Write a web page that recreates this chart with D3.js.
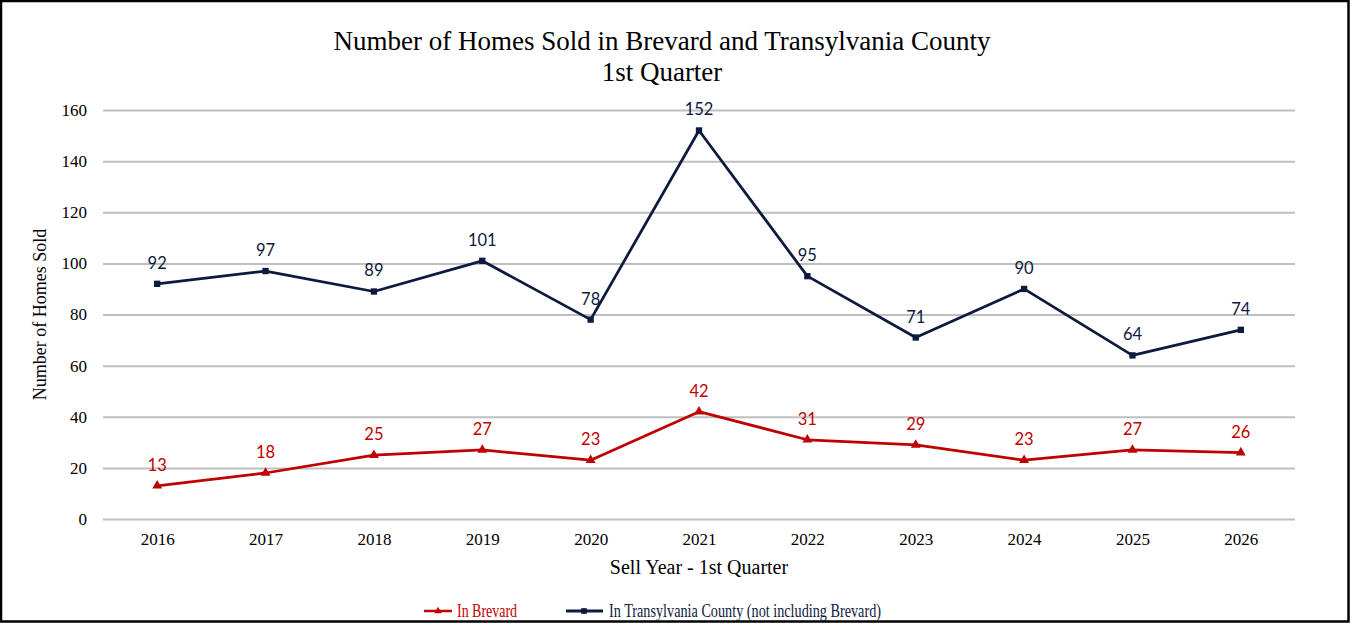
<!DOCTYPE html>
<html>
<head>
<meta charset="utf-8">
<script src="https://cdn.jsdelivr.net/npm/d3@7"></script>
<style>
    body { margin: 0; background: #fff; }
    svg { display: block; }
</style>
</head>
<body>
<div id="chart-area"></div>
<script>

// DATA
// =====

var years = ['2016', '2017', '2018', '2019', '2020', '2021', '2022', '2023', '2024', '2025', '2026'];
var brevard = [13, 18, 25, 27, 23, 42, 31, 29, 23, 27, 26];
var transylvania = [92, 97, 89, 101, 78, 152, 95, 71, 90, 64, 74];
var yTicks = [0, 20, 40, 60, 80, 100, 120, 140, 160];

var RED = '#c00000',
    NAVY = '#0e1a3d';

// CANVAS
// =======

var W = 1350, H = 623;
var margin = { left: 103, right: 55, top: 110, bottom: 104 };
var width = W - margin.left - margin.right,
    height = H - margin.top - margin.bottom;

var svg = d3.select('#chart-area')
    .append('svg')
        .attr('width', W)
        .attr('height', H);

svg.append('rect')
    .attr('x', 1)
    .attr('y', 1)
    .attr('width', W - 2.5)
    .attr('height', H - 2.5)
    .attr('fill', '#fff')
    .attr('stroke', '#000')
    .attr('stroke-width', 2.5);

var g = svg.append('g')
    .attr('transform', 'translate(' + margin.left + ',' + margin.top + ')');

// TITLE
svg.append('text')
    .attr('x', 662)
    .attr('y', 50)
    .attr('text-anchor', 'middle')
    .attr('font-family', 'Liberation Serif')
    .attr('font-size', '27px')
    .attr('fill', '#000')
    .text('Number of Homes Sold in Brevard and Transylvania County');
svg.append('text')
    .attr('x', 662)
    .attr('y', 81)
    .attr('text-anchor', 'middle')
    .attr('font-family', 'Liberation Serif')
    .attr('font-size', '27px')
    .attr('fill', '#000')
    .text('1st Quarter');

// SCALES
var x = d3.scalePoint()
    .domain(years)
    .range([0, width])
    .padding(0.5);

var y = d3.scaleLinear()
    .domain([0, 160])
    .range([height, 0]);

// GRID + Y AXIS
var yAxisCall = d3.axisLeft(y)
    .tickValues(yTicks)
    .tickSize(-width)
    .tickPadding(16);
var yAxis = g.append('g')
    .attr('class', 'y axis')
    .call(yAxisCall);
yAxis.select('.domain').remove();
yAxis.selectAll('line')
    .attr('stroke', '#bfbfbf')
    .attr('stroke-width', 2);
yAxis.selectAll('text')
    .attr('font-family', 'Liberation Serif')
    .attr('font-size', '17px')
    .attr('fill', '#000');

// X AXIS
var xAxisCall = d3.axisBottom(x)
    .tickSize(0)
    .tickPadding(14);
var xAxis = g.append('g')
    .attr('class', 'x axis')
    .attr('transform', 'translate(0,' + height + ')')
    .call(xAxisCall);
xAxis.select('.domain').remove();
xAxis.selectAll('text')
    .attr('font-family', 'Liberation Serif')
    .attr('font-size', '17px')
    .attr('fill', '#000');

// AXIS LABELS
g.append('text')
    .attr('x', x('2021'))
    .attr('y', height + 55)
    .attr('text-anchor', 'middle')
    .attr('font-family', 'Liberation Serif')
    .attr('font-size', '20px')
    .attr('fill', '#000')
    .text('Sell Year - 1st Quarter');

g.append('text')
    .attr('transform', 'rotate(-90)')
    .attr('x', -(height / 2))
    .attr('y', -57)
    .attr('text-anchor', 'middle')
    .attr('font-family', 'Liberation Serif')
    .attr('font-size', '18px')
    .attr('fill', '#000')
    .text('Number of Homes Sold');

// LINES
var line = d3.line()
    .x((d, i) => x(years[i]))
    .y(d => y(d));

var series = [
    { name: 'In Brevard', values: brevard, color: RED, marker: 'triangle' },
    { name: 'In Transylvania County (not including Brevard)', values: transylvania, color: NAVY, marker: 'square' }
];

series.forEach(s => {
    g.append('path')
        .datum(s.values)
        .attr('fill', 'none')
        .attr('stroke', s.color)
        .attr('stroke-width', 2.75)
        .attr('stroke-linejoin', 'round')
        .attr('d', line);

    var sym = d3.symbol()
        .type(s.marker === 'triangle' ? d3.symbolTriangle : d3.symbolSquare)
        .size(s.marker === 'triangle' ? 42 : 40);

    g.selectAll('.m-' + s.marker)
        .data(s.values)
        .enter()
        .append('path')
        .attr('class', 'm-' + s.marker)
        .attr('d', sym)
        .attr('transform', (d, i) => 'translate(' + x(years[i]) + ',' + y(d) + ')')
        .attr('fill', s.color);

    g.selectAll('.lbl-' + s.marker)
        .data(s.values)
        .enter()
        .append('text')
        .attr('class', 'lbl-' + s.marker)
        .attr('x', (d, i) => x(years[i]))
        .attr('y', d => y(d) - 15)
        .attr('text-anchor', 'middle')
        .attr('font-family', 'Lato')
        .attr('font-size', '16.5px')
        .attr('fill', s.color)
        .text(d => d);
});

// LEGEND
var legend = [
    { x0: 424, x1: 452, mx: 438, tx: 457, tw: 60, sw: 2.5, color: RED, marker: d3.symbolTriangle, size: 24, text: 'In Brevard' },
    { x0: 566, x1: 603, mx: 584, tx: 609, tw: 272, sw: 3, color: NAVY, marker: d3.symbolSquare, size: 32, text: 'In Transylvania County (not including Brevard)' }
];

legend.forEach(l => {
    var lg = svg.append('g')
        .attr('transform', 'translate(0,611)');
    lg.append('line')
        .attr('x1', l.x0)
        .attr('x2', l.x1)
        .attr('y1', 0)
        .attr('y2', 0)
        .attr('stroke', l.color)
        .attr('stroke-width', l.sw);
    lg.append('path')
        .attr('d', d3.symbol().type(l.marker).size(l.size))
        .attr('transform', 'translate(' + l.mx + ',0)')
        .attr('fill', l.color);
    lg.append('text')
        .attr('x', l.tx)
        .attr('y', 6)
        .attr('font-family', 'Liberation Serif')
        .attr('font-size', '19px')
        .attr('textLength', l.tw)
        .attr('lengthAdjust', 'spacingAndGlyphs')
        .attr('fill', l.color)
        .text(l.text);
});

</script>
</body>
</html>
